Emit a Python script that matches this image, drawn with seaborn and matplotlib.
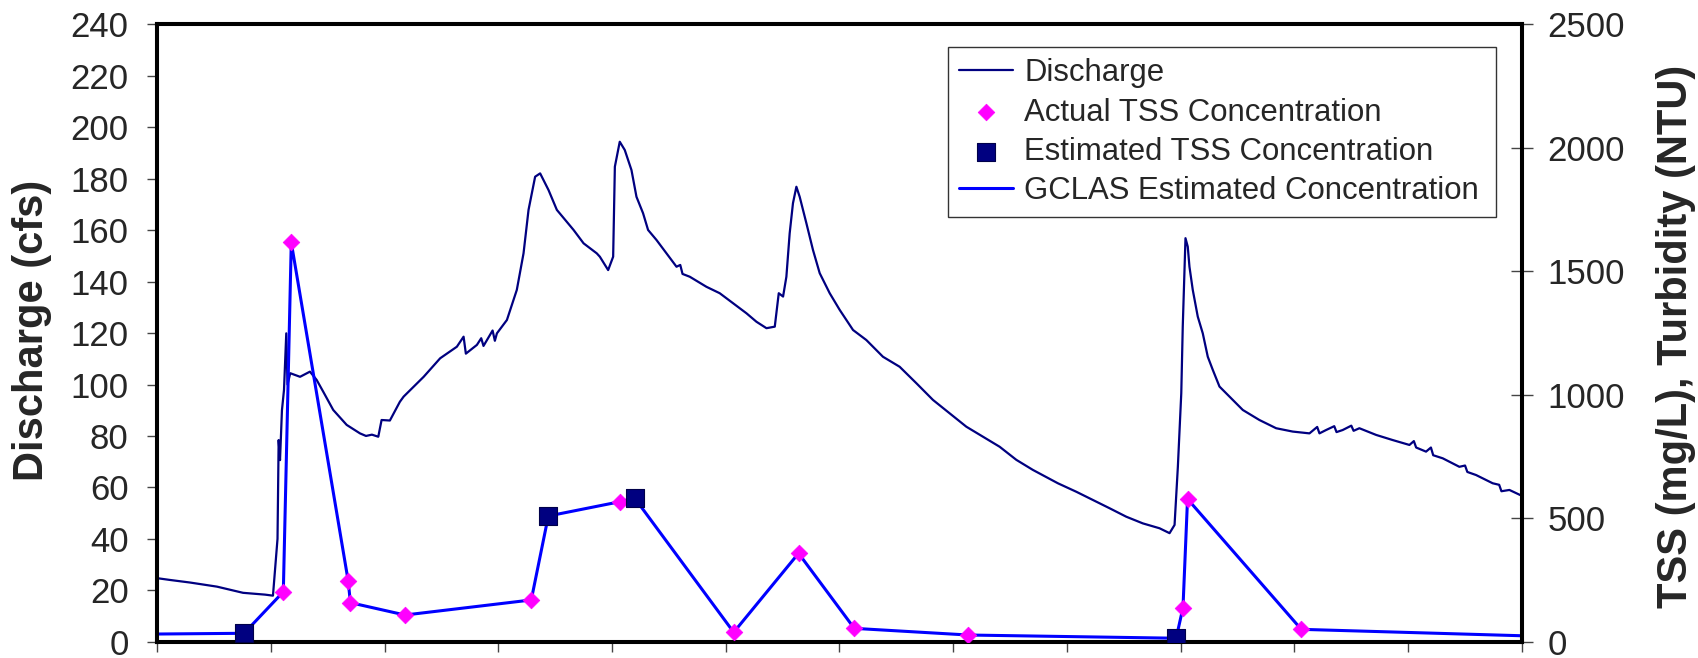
import matplotlib
matplotlib.use("Agg")
import matplotlib.pyplot as plt
import seaborn as sns
import pandas as pd

# Elapsed time in days and stream discharge (cfs)
discharge_days = [
    0.000, 0.114, 0.290, 0.527, 0.756, 0.949, 1.019, 1.059, 1.069, 1.081,
    1.098, 1.116, 1.136, 1.147, 1.171, 1.257, 1.344, 1.403, 1.461, 1.549,
    1.667, 1.784, 1.837, 1.889, 1.945, 1.974, 2.047, 2.135, 2.168, 2.344,
    2.489, 2.636, 2.695, 2.715, 2.812, 2.850, 2.870, 2.950, 2.970, 2.988,
    3.076, 3.163, 3.222, 3.266, 3.324, 3.368, 3.442, 3.515, 3.662, 3.750,
    3.866, 3.893, 3.966, 4.010, 4.025, 4.068, 4.112, 4.171, 4.215, 4.273,
    4.317, 4.391, 4.479, 4.567, 4.600, 4.620, 4.684, 4.830, 4.947, 5.064,
    5.182, 5.270, 5.358, 5.431, 5.466, 5.504, 5.533, 5.562, 5.591, 5.621,
    5.650, 5.709, 5.767, 5.826, 5.914, 6.002, 6.119, 6.236, 6.382, 6.529,
    6.676, 6.822, 6.968, 7.115, 7.261, 7.408, 7.555, 7.700, 7.920, 8.082,
    8.228, 8.374, 8.521, 8.667, 8.814, 8.902, 8.946, 8.975, 9.005, 9.018,
    9.042, 9.062, 9.077, 9.106, 9.150, 9.194, 9.238, 9.282, 9.341, 9.429,
    9.546, 9.692, 9.839, 9.985, 10.132, 10.200, 10.220, 10.278, 10.350, 10.370,
    10.424, 10.500, 10.520, 10.571, 10.718, 10.864, 11.011, 11.050, 11.070, 11.157,
    11.200, 11.220, 11.304, 11.450, 11.500, 11.520, 11.597, 11.743, 11.800, 11.820,
    11.890, 11.986,
]
discharge_cfs = [
    24.7, 24.0, 23.0, 21.4, 19.0, 18.3, 17.9, 40.0, 78.4, 70.6,
    90.0, 97.9, 119.9, 100.0, 104.4, 103.0, 105.0, 101.8, 97.2, 90.1,
    84.3, 81.0, 80.0, 80.5, 79.7, 86.2, 86.0, 93.3, 95.3, 103.0,
    110.2, 114.7, 118.6, 112.0, 115.4, 118.0, 115.0, 121.0, 117.0, 119.9,
    125.1, 136.8, 151.0, 167.9, 180.8, 182.1, 175.6, 167.9, 160.1, 154.9,
    151.0, 149.7, 144.5, 149.7, 184.7, 194.4, 191.2, 183.4, 173.0, 166.6,
    160.1, 156.2, 151.0, 145.8, 146.5, 143.0, 141.9, 138.0, 135.5, 131.6,
    127.7, 124.4, 121.9, 122.5, 135.5, 134.2, 141.9, 158.8, 170.5, 176.9,
    173.0, 162.7, 152.3, 143.3, 135.5, 129.0, 121.2, 117.3, 110.8, 106.9,
    100.5, 94.0, 88.8, 83.6, 79.7, 75.8, 70.7, 66.8, 61.6, 58.3,
    55.1, 51.9, 48.6, 46.0, 44.1, 42.2, 45.4, 68.0, 96.6, 122.5,
    156.9, 153.6, 145.8, 136.8, 126.4, 119.9, 110.8, 105.7, 99.2, 95.3,
    90.1, 86.2, 83.0, 81.7, 81.0, 83.5, 81.0, 82.3, 83.8, 81.5,
    82.3, 84.0, 82.0, 83.0, 80.4, 78.4, 76.5, 78.0, 75.5, 73.9,
    75.5, 72.5, 71.3, 68.0, 68.5, 66.0, 64.8, 61.6, 61.0, 58.5,
    59.0, 57.0,
]

# Laboratory TSS samples (mg/L)
actual_days = [1.11, 1.18, 1.68, 1.70, 2.18, 3.29, 4.07, 5.07, 5.64, 6.13, 7.13, 9.02, 9.06, 10.06]
actual_tss = [202, 1617, 247, 158, 108, 169, 567, 38, 358, 54, 27, 138, 578, 50]

# Estimated TSS values (mg/L)
estimated_days = [0.765, 3.44, 4.20, 8.96]
estimated_tss = [34, 509, 581, 14]

# GCLAS series end values at the start and end of the record
gclas_edge_days = [0.0, 12.0]
gclas_edge_tss = [31, 24]

x_ticks = list(range(0, 13))

discharge = pd.DataFrame({"day": discharge_days, "cfs": discharge_cfs})
actual = pd.DataFrame({"day": actual_days, "tss": actual_tss})
estimated = pd.DataFrame({"day": estimated_days, "tss": estimated_tss})
gclas = pd.concat([
    actual, estimated,
    pd.DataFrame({"day": gclas_edge_days, "tss": gclas_edge_tss}),
]).sort_values("day", kind="stable")

sns.set_style("white")
plt.rcParams["font.family"] = ["Liberation Sans", "DejaVu Sans"]

NAVY = "#000080"
MAGENTA = "#FF00FF"
BLUE = "#0000FF"

fig = plt.figure(figsize=(16.98, 6.58), dpi=100)
ax = fig.add_axes([0.0925, 0.0248, 0.8038, 0.938])
ax2 = ax.twinx()

sns.lineplot(data=discharge, x="day", y="cfs", ax=ax, color=NAVY, linewidth=1.6,
             estimator=None, sort=False, label="Discharge", legend=False)

sns.lineplot(data=gclas, x="day", y="tss", ax=ax2, color=BLUE, linewidth=2.2,
             estimator=None, sort=False, label="GCLAS Estimated Concentration",
             legend=False, zorder=2)
sns.scatterplot(data=actual, x="day", y="tss", ax=ax2, marker="D", s=72,
                color=MAGENTA, edgecolor=MAGENTA, linewidth=0.5,
                label="Actual TSS Concentration", legend=False, zorder=3)
sns.scatterplot(data=estimated, x="day", y="tss", ax=ax2, marker="s", s=160,
                color=NAVY, edgecolor="#00004a", linewidth=0.8,
                label="Estimated TSS Concentration", legend=False, zorder=4)

ax.set_xlim(0, 12)
ax.set_ylim(0, 240)
ax2.set_ylim(0, 2500)
ax.set_xticks(x_ticks)
ax.set_xticklabels([])
ax.set_yticks(range(0, 241, 20))
ax2.set_yticks(range(0, 2501, 500))

ax.set_xlabel("")
ax.set_ylabel("Discharge (cfs)", fontsize=30, fontweight="bold")
ax2.set_ylabel("TSS (mg/L), Turbidity (NTU)", fontsize=30, fontweight="bold")
ax.yaxis.set_label_coords(-0.0769, 0.505)
ax2.yaxis.set_label_coords(1.0985, 0.4953)

ax.tick_params(axis="y", direction="out", length=7, width=1, color="#444444",
               labelsize=25, pad=13.5, left=True)
ax.tick_params(axis="x", direction="out", length=7, width=1, color="#444444",
               bottom=True)
ax2.tick_params(axis="y", direction="inout", length=16, width=1, color="#444444",
                labelsize=25, pad=10.5, right=True)

for a in (ax, ax2):
    for sp in a.spines.values():
        sp.set_visible(True)
        sp.set_color("black")
        sp.set_linewidth(2.9)

ax.set_zorder(1)
ax.patch.set_visible(False)
ax2.set_zorder(2)
ax2.patch.set_visible(False)

h1, l1 = ax.get_legend_handles_labels()
h2, l2 = ax2.get_legend_handles_labels()
handles = dict(zip(l1 + l2, h1 + h2))
order = ["Discharge", "Actual TSS Concentration", "Estimated TSS Concentration",
         "GCLAS Estimated Concentration"]
leg = ax2.legend([handles[k] for k in order], order, loc="upper left",
                 bbox_to_anchor=(0.5583, 0.5, 0.3227, 0.4281),
                 bbox_transform=fig.transFigure, mode="expand",
                 borderaxespad=0, fontsize=22.4, frameon=True, fancybox=False,
                 edgecolor="#333333", framealpha=1, labelspacing=0.3,
                 handlelength=1.75, handletextpad=0.35, borderpad=0.35,
                 markerscale=1.0)
leg.get_frame().set_linewidth(1.0)

fig.savefig("out.png", dpi=100, facecolor="white")
